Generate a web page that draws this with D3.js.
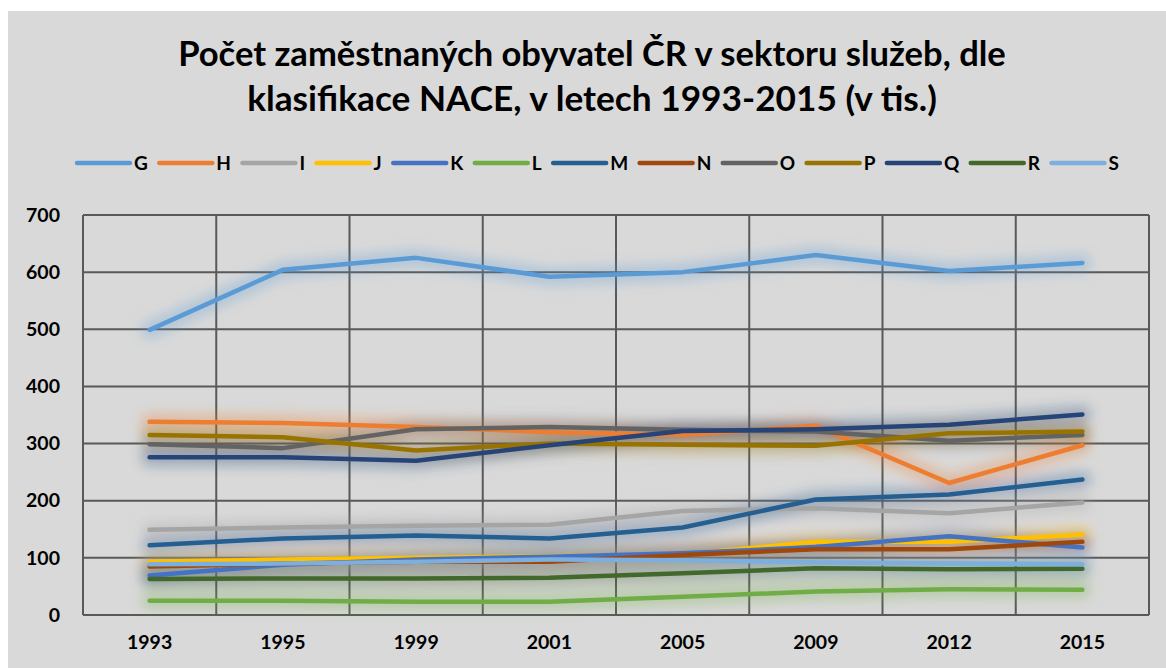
<!DOCTYPE html>
<html>
<head>
<meta charset="utf-8">
<script src="https://cdn.jsdelivr.net/npm/d3@7/dist/d3.min.js"></script>
<style>
  html, body { margin: 0; padding: 0; background: #ffffff; }
  svg { display: block; }
  text { font-family: Lato, "Open Sans", "DejaVu Sans", sans-serif; font-weight: bold; fill: #000; }
</style>
</head>
<body>
<svg id="chart" width="1166" height="668"></svg>
<script>
// ---- data ----
const years = ["1993", "1995", "1999", "2001", "2005", "2009", "2012", "2015"];
const seriesNames = ["G", "H", "I", "J", "K", "L", "M", "N", "O", "P", "Q", "R", "S"];
const seriesColors = ["#5B9BD5", "#ED7D31", "#A5A5A5", "#FFC000", "#4472C4", "#70AD47", "#255E91", "#9E480E", "#636363", "#997300", "#264478", "#43682B", "#7CAFDD"];
const G = [499, 604, 625, 592, 600, 630, 602, 616];
const H = [338, 336, 329, 320, 315, 331, 231, 297];
const I = [149, 153, 156, 158, 182, 187, 178, 197];
const J = [93, 97, 100, 103, 106, 128, 128, 141];
const K = [69, 88, 97, 102, 108, 119, 138, 118];
const L = [25, 25, 23, 23, 32, 41, 45, 44];
const M = [122, 134, 139, 134, 153, 202, 211, 237];
const N = [85, 90, 93, 93, 105, 115, 115, 128];
const O = [299, 292, 325, 329, 324, 321, 305, 315];
const P = [315, 311, 288, 300, 298, 296, 318, 321];
const Q = [276, 276, 270, 297, 322, 325, 333, 351];
const R = [63, 64, 64, 65, 73, 82, 80, 81];
const S = [89, 90, 93, 97, 96, 92, 90, 89];
const seriesValues = [G, H, I, J, K, L, M, N, O, P, Q, R, S];
const yTicks = [0, 100, 200, 300, 400, 500, 600, 700];
const titleLines = ["Počet zaměstnaných obyvatel ČR v sektoru služeb, dle", "klasifikace NACE, v letech 1993-2015 (v tis.)"];

// ---- layout ----
const svg = d3.select("#chart");
const W = 1166, H_ = 668;
const plot = { left: 83, right: 1149, top: 215, bottom: 615 };

svg.append("rect").attr("x", 8).attr("y", 11).attr("width", W - 8).attr("height", H_ - 11).attr("fill", "#d9d9d9");

const defs = svg.append("defs");
const blur = defs.append("filter").attr("id", "glow").attr("x", "-10%").attr("y", "-50%").attr("width", "120%").attr("height", "200%");
blur.append("feGaussianBlur").attr("stdDeviation", 6);

// title
const titleSizes = [33, 33];
const titleWidths = [828, 690];
const titleY = [66, 111];
titleLines.forEach((t, i) => {
  const el = svg.append("text").attr("x", 592).attr("y", titleY[i]).attr("text-anchor", "middle")
    .attr("font-size", titleSizes[i]).attr("font-weight", 900).text(t);
  const w = el.node().getComputedTextLength();
  const fs = titleSizes[i] * titleWidths[i] / w;
  el.attr("font-size", Math.min(fs, 36));
});

// scales
const x = d3.scaleBand().domain(years).range([plot.left, plot.right]).paddingInner(0).paddingOuter(0);
const y = d3.scaleLinear().domain([0, 700]).range([plot.bottom, plot.top]);

// gridlines
const grid = svg.append("g");
grid.selectAll("line.h").data(yTicks).join("line")
  .attr("x1", plot.left).attr("x2", plot.right)
  .attr("y1", d => y(d)).attr("y2", d => y(d))
  .attr("stroke", "#595959").attr("stroke-width", 2);
const vx = years.map(d => x(d)).concat([plot.right]);
grid.selectAll("line.v").data(vx).join("line")
  .attr("x1", d => d).attr("x2", d => d)
  .attr("y1", plot.top).attr("y2", plot.bottom)
  .attr("stroke", "#595959").attr("stroke-width", 2);

// axes labels
const yAxis = d3.axisLeft(y).tickValues(yTicks).tickSize(0).tickPadding(23);
const ya = svg.append("g").attr("transform", `translate(${plot.left},0)`).call(yAxis);
ya.select(".domain").remove();
ya.selectAll("text").attr("font-size", 19.5).attr("font-family", "Lato, sans-serif").attr("font-weight", 900).attr("fill", "#000");

const xAxis = d3.axisBottom(x).tickSize(0).tickPadding(20);
const xa = svg.append("g").attr("transform", `translate(0,${plot.bottom})`).call(xAxis);
xa.select(".domain").remove();
xa.selectAll("text").attr("font-size", 19.5).attr("font-family", "Lato, sans-serif").attr("font-weight", 900).attr("fill", "#000");

// lines
const line = d3.line().x((d, i) => x(years[i]) + x.bandwidth() / 2).y(d => y(d));
const glows = svg.append("g").attr("filter", "url(#glow)");
seriesValues.forEach((vals, k) => {
  glows.append("path").attr("d", line(vals)).attr("fill", "none")
    .attr("stroke", seriesColors[k]).attr("stroke-width", 18).attr("stroke-opacity", 0.3)
    .attr("stroke-linecap", "round").attr("stroke-linejoin", "round");
});
const lines = svg.append("g");
seriesValues.forEach((vals, k) => {
  lines.append("path").attr("d", line(vals)).attr("fill", "none")
    .attr("stroke", seriesColors[k]).attr("stroke-width", 4.5)
    .attr("stroke-linecap", "round").attr("stroke-linejoin", "round");
});

// legend
const legend = svg.append("g");
let lx = 77;
const ly = 163;
seriesNames.forEach((n, k) => {
  legend.append("line").attr("x1", lx).attr("x2", lx + 53).attr("y1", ly).attr("y2", ly)
    .attr("stroke", seriesColors[k]).attr("stroke-width", 4.5).attr("stroke-linecap", "round");
  const t = legend.append("text").attr("x", lx + 57).attr("y", ly + 7).attr("font-size", 19).attr("font-weight", 900).text(n);
  lx += 57 + t.node().getComputedTextLength() + 11.5;
});
</script>
</body>
</html>
